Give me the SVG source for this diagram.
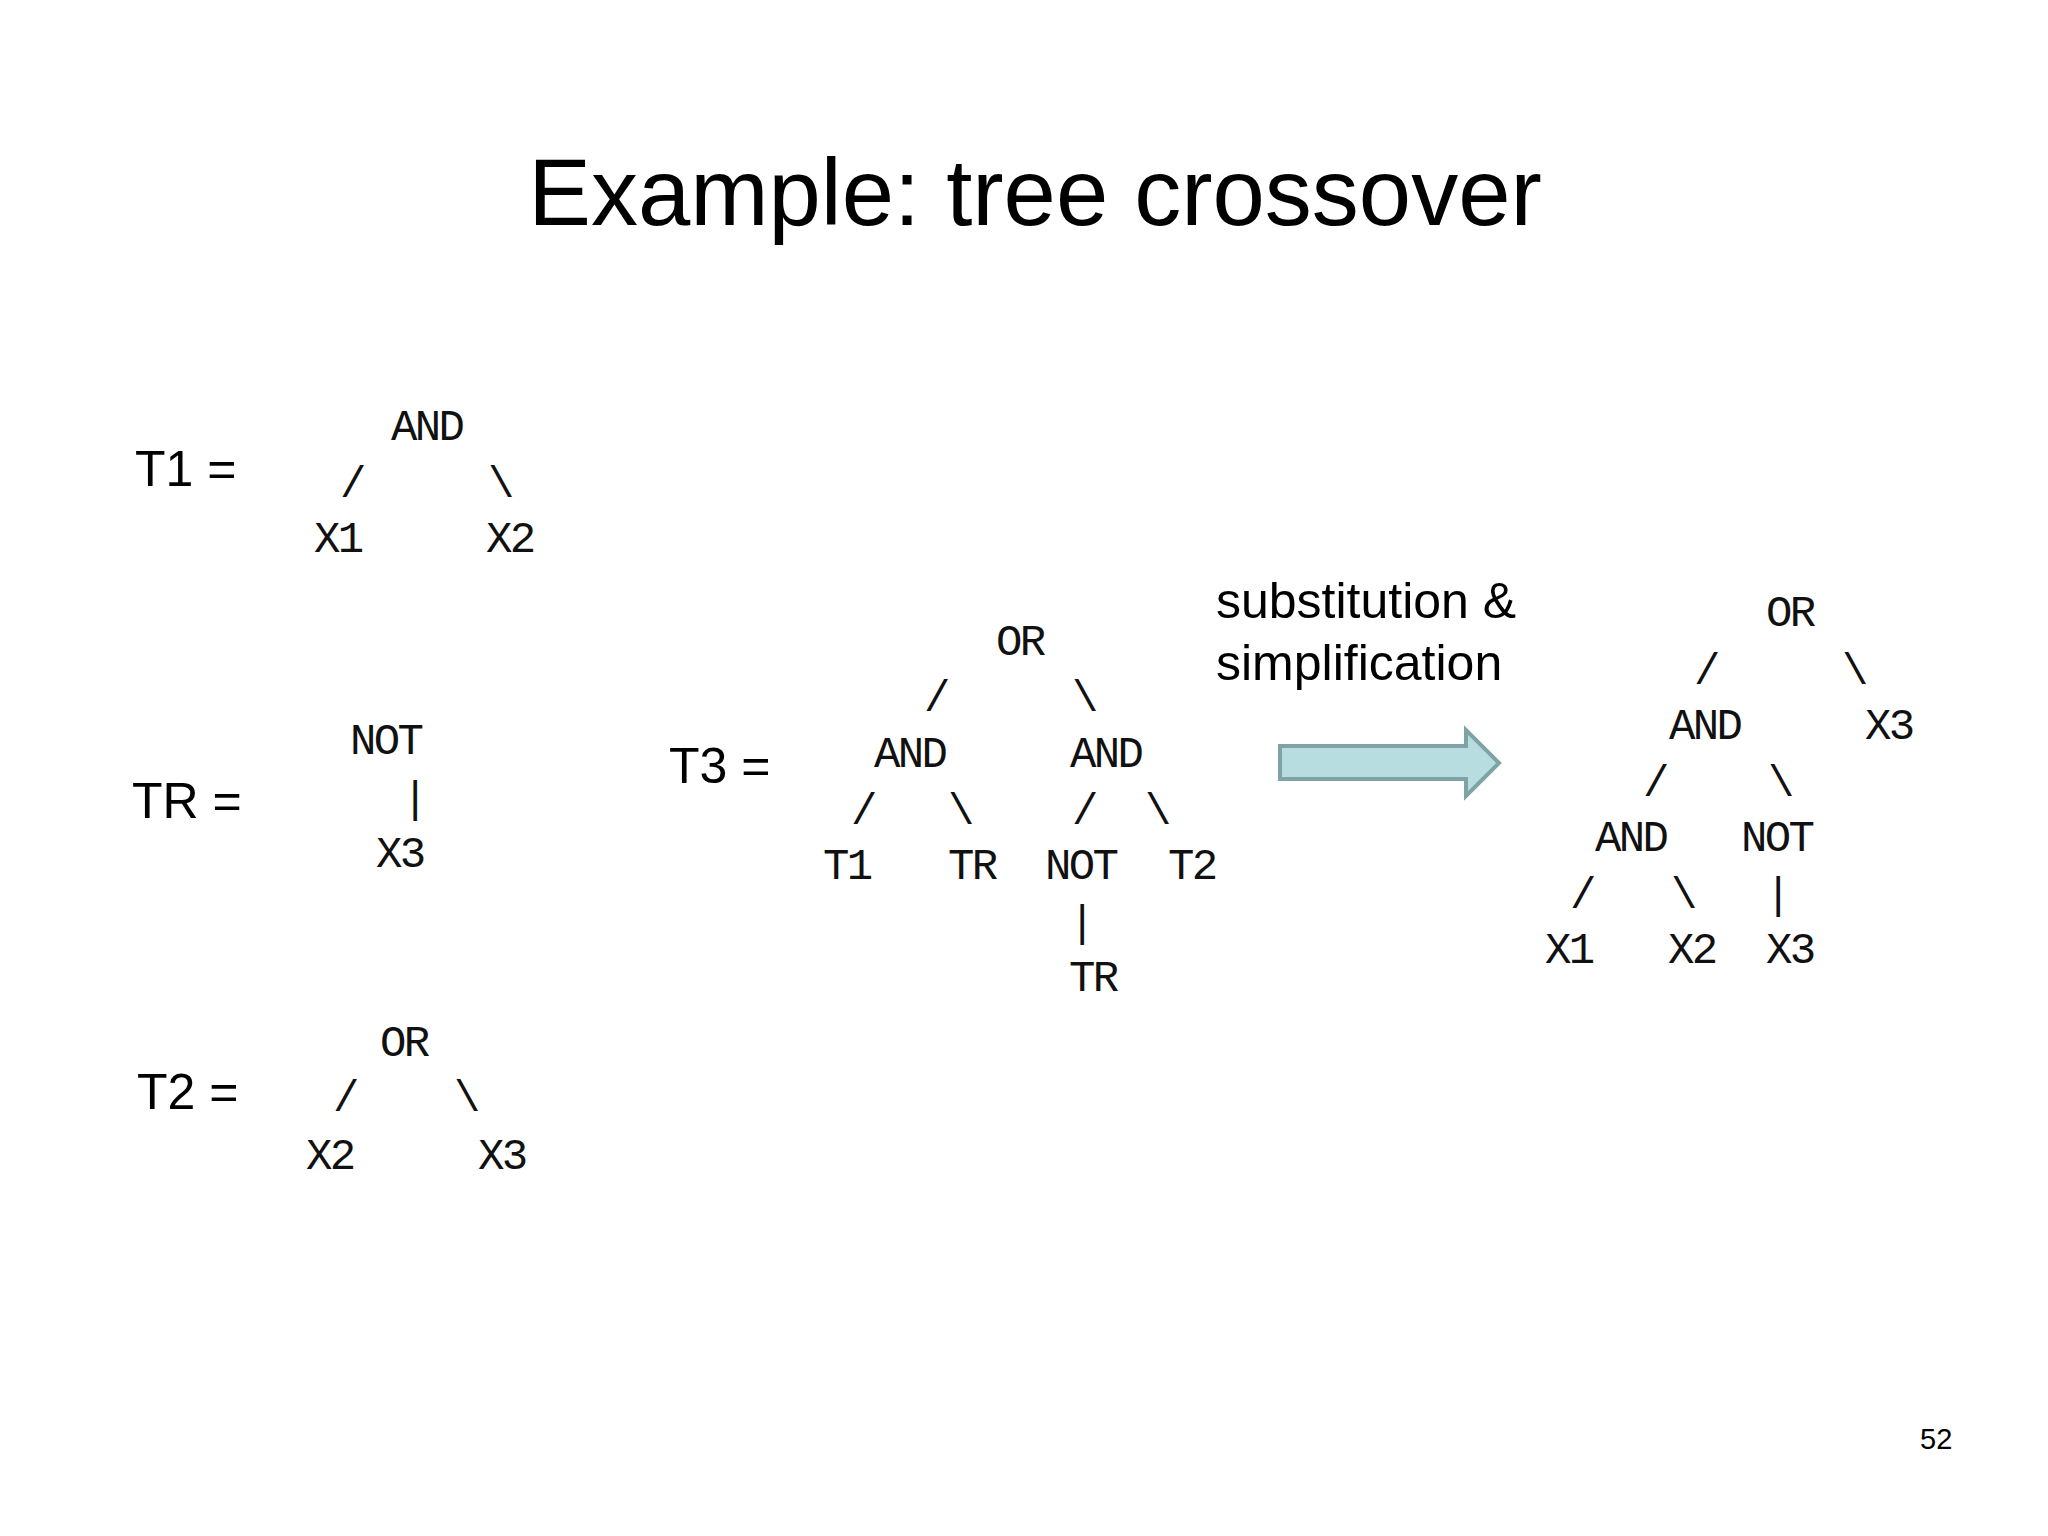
<svg xmlns="http://www.w3.org/2000/svg" width="2048" height="1536" viewBox="0 0 2048 1536">
<style>
.s{font-family:"Liberation Sans",Arial,sans-serif;fill:#000}
.m{font-family:"Liberation Mono","Courier New",monospace;font-size:44px;letter-spacing:-2.6px;fill:#111}
</style>
<rect width="2048" height="1536" fill="#fff"/>
<text class="s" x="1035" y="225" font-size="94" text-anchor="middle">Example: tree crossover</text>
<text class="s" x="135" y="486" font-size="50">T1 =</text>
<text class="s" x="132" y="818" font-size="50">TR =</text>
<text class="s" x="137" y="1109" font-size="50">T2 =</text>
<text class="s" x="669" y="783" font-size="50">T3 =</text>
<text class="s" x="1216" y="618" font-size="50">substitution  &amp;</text>
<text class="s" x="1216" y="680" font-size="50">simplification</text>
<text class="s" x="1920" y="1449" font-size="29">52</text>
<g id="arrow">
<polygon points="1280,746 1466,746 1466,730 1499,763 1466,796 1466,779 1280,779" fill="#b7dde0" stroke="#7fa3a5" stroke-width="4"/>
</g>
<g id="T1">
<text class="m" x="391" y="440">AND</text>
<text class="m" x="340" y="497">/</text><text class="m" x="488" y="497">\</text>
<text class="m" x="314" y="552">X1</text><text class="m" x="486" y="552">X2</text>
</g>
<g id="TR">
<text class="m" x="350" y="754">NOT</text>
<text class="m" x="402" y="812">|</text>
<text class="m" x="376" y="867">X3</text>
</g>
<g id="T2">
<text class="m" x="380" y="1056">OR</text>
<text class="m" x="333" y="1111">/</text><text class="m" x="454" y="1111">\</text>
<text class="m" x="306" y="1169">X2</text><text class="m" x="478" y="1169">X3</text>
</g>
<g id="T3">
<text class="m" x="996" y="655">OR</text>
<text class="m" x="924" y="711">/</text><text class="m" x="1072" y="711">\</text>
<text class="m" x="874" y="767">AND</text><text class="m" x="1070" y="767">AND</text>
<text class="m" x="851" y="824">/</text><text class="m" x="948" y="824">\</text>
<text class="m" x="1072" y="824">/</text><text class="m" x="1145" y="824">\</text>
<text class="m" x="823" y="879">T1</text><text class="m" x="948" y="879">TR</text>
<text class="m" x="1045" y="879">NOT</text><text class="m" x="1168" y="879">T2</text>
<text class="m" x="1069" y="936">|</text>
<text class="m" x="1069" y="991">TR</text>
</g>
<g id="result">
<text class="m" x="1766" y="626">OR</text>
<text class="m" x="1694" y="684">/</text><text class="m" x="1842" y="684">\</text>
<text class="m" x="1669" y="739">AND</text><text class="m" x="1865" y="739">X3</text>
<text class="m" x="1643" y="796">/</text><text class="m" x="1768" y="796">\</text>
<text class="m" x="1595" y="851">AND</text><text class="m" x="1741" y="851">NOT</text>
<text class="m" x="1570" y="908">/</text><text class="m" x="1671" y="908">\</text><text class="m" x="1765" y="908">|</text>
<text class="m" x="1545" y="963">X1</text><text class="m" x="1668" y="963">X2</text><text class="m" x="1766" y="963">X3</text>
</g>
</svg>
